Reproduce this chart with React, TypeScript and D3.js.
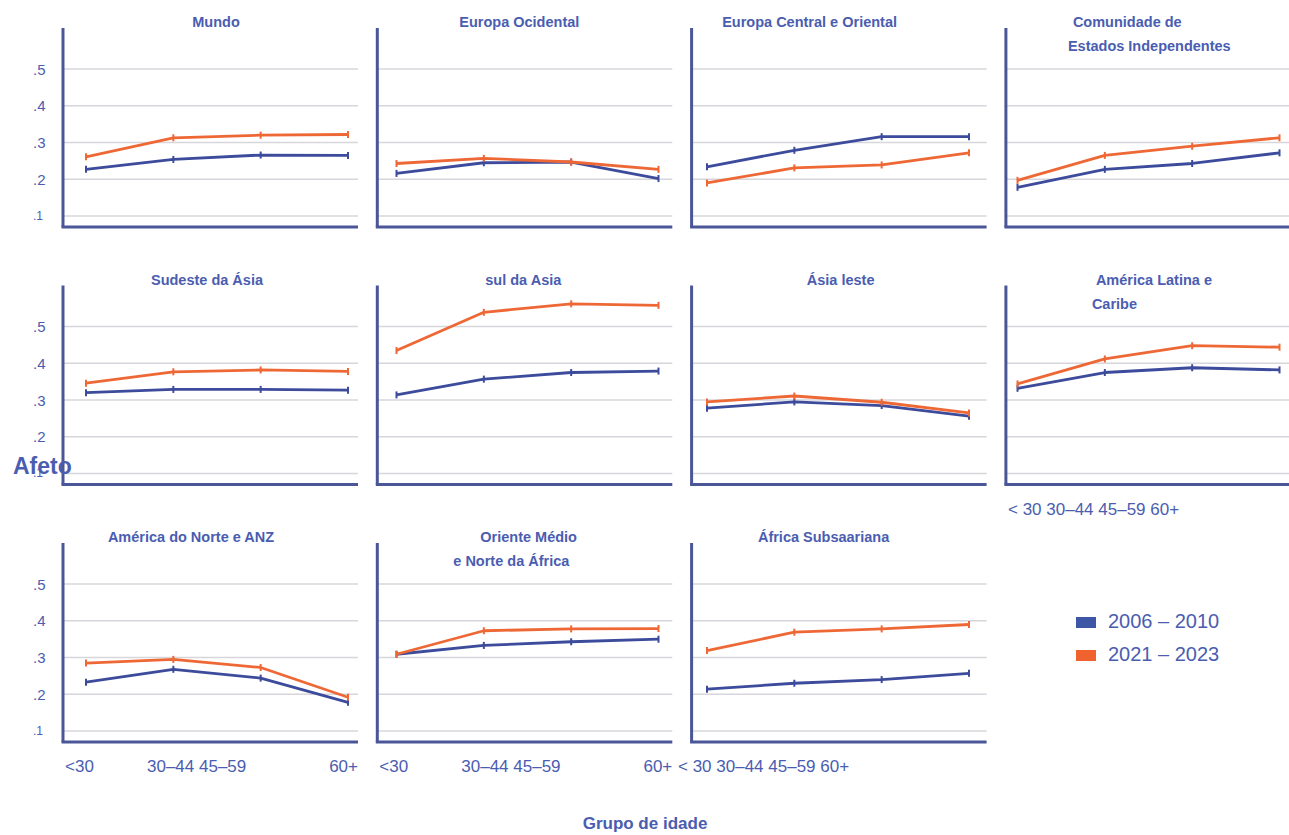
import * as d3 from "d3";

const ageGroups = ["<30", "30–44", "45–59", "60+"];
const ageGroupsCompact = ["< 30", "30–44", "45–59", "60+"];
const periods = ["2006 – 2010", "2021 – 2023"];
const yTicks = [0.1, 0.2, 0.3, 0.4, 0.5];

const regions = [
  "Mundo",
  "Europa Ocidental",
  "Europa Central e Oriental",
  "Comunidade de\nEstados Independentes",
  "Sudeste da Ásia",
  "sul da Asia",
  "Ásia leste",
  "América Latina e\nCaribe",
  "América do Norte e ANZ",
  "Oriente Médio\ne Norte da África",
  "África Subsaariana",
];

// afeto por grupo de idade (<30, 30–44, 45–59, 60+)
const afeto2006 = [
  [0.227, 0.254, 0.266, 0.265],
  [0.216, 0.245, 0.247, 0.202],
  [0.234, 0.279, 0.316, 0.316],
  [0.178, 0.227, 0.243, 0.272],
  [0.32, 0.329, 0.329, 0.327],
  [0.314, 0.357, 0.375, 0.379],
  [0.278, 0.295, 0.285, 0.256],
  [0.332, 0.375, 0.388, 0.382],
  [0.233, 0.268, 0.244, 0.178],
  [0.309, 0.333, 0.343, 0.35],
  [0.214, 0.23, 0.24, 0.257],
];

const afeto2021 = [
  [0.261, 0.313, 0.32, 0.322],
  [0.243, 0.257, 0.247, 0.227],
  [0.19, 0.231, 0.239, 0.272],
  [0.197, 0.265, 0.29, 0.313],
  [0.346, 0.377, 0.382, 0.378],
  [0.435, 0.539, 0.562, 0.558],
  [0.295, 0.311, 0.294, 0.265],
  [0.344, 0.412, 0.448, 0.444],
  [0.285, 0.295, 0.273, 0.192],
  [0.309, 0.373, 0.378, 0.379],
  [0.319, 0.369, 0.378, 0.39],
];

// posição dos títulos (relativa ao eixo de cada painel)
const titleLayout: { dx: number[]; anchor: string }[] = [
  { dx: [153], anchor: "middle" },
  { dx: [142], anchor: "middle" },
  { dx: [118], anchor: "middle" },
  { dx: [67, 62], anchor: "start" },
  { dx: [144], anchor: "middle" },
  { dx: [146], anchor: "middle" },
  { dx: [149], anchor: "middle" },
  { dx: [90, 86], anchor: "start" },
  { dx: [128], anchor: "middle" },
  { dx: [103, 76], anchor: "start" },
  { dx: [132], anchor: "middle" },
];

const W = 1289;
const H = 835;
const panelW = 295;
const panelH = 199;
const textBlue = "#4a5db0";
const axisColor = "#4a5697";
const gridColor = "#d6d6dc";
const colors = ["#3c4b9b", "#ee6836"];
const font = "'Liberation Sans', Arial, sans-serif";

const axisX = (col: number) => 63 + col * 314.3;
const axisTop = (row: number) => 28 + row * 257.5;

function Panel({ i }: { i: number }) {
  const row = Math.floor(i / 4);
  const col = i % 4;
  const ax = axisX(col);
  const top = axisTop(row);
  const px0 = 86 + col * 310.5;

  const x = d3.scalePoint<string>().domain(ageGroups).range([px0, px0 + 262]);
  const y = d3.scaleLinear().domain([0.07, 0.612]).range([top + panelH, top]);

  const line = d3
    .line<number>()
    .x((_, k) => x(ageGroups[k]) as number)
    .y((d) => y(d));

  const series = [afeto2006[i], afeto2021[i]];
  const lines = regions[i].split("\n");
  const tl = titleLayout[i];

  return (
    <g>
      {yTicks.map((t) => (
        <line
          key={t}
          x1={ax}
          x2={ax + panelW}
          y1={y(t)}
          y2={y(t)}
          stroke={gridColor}
          strokeWidth={1.5}
        />
      ))}
      {col === 0 &&
        yTicks.map((t) => (
          <text
            key={"l" + t}
            x={33}
            y={y(t) + (t === 0.1 ? 4 : 5.5)}
            fontSize={t === 0.1 ? 12 : 15}
            fill={textBlue}
            fontFamily={font}
          >
            {d3.format(".1f")(t).replace(/^0/, "")}
          </text>
        ))}
      <line x1={ax} x2={ax} y1={top} y2={top + panelH} stroke={axisColor} strokeWidth={3} />
      <line
        x1={ax - 1.5}
        x2={ax + panelW}
        y1={top + panelH}
        y2={top + panelH}
        stroke={axisColor}
        strokeWidth={3}
      />
      {series.map((s, si) => (
        <g key={si}>
          <path
            d={line(s) as string}
            fill="none"
            stroke={colors[si]}
            strokeWidth={2.8}
            strokeLinejoin="round"
          />
          {s.map((v, k) => (
            <line
              key={k}
              x1={x(ageGroups[k])}
              x2={x(ageGroups[k])}
              y1={y(v) - 3.5}
              y2={y(v) + 3.5}
              stroke={colors[si]}
              strokeWidth={2}
            />
          ))}
        </g>
      ))}
      {lines.map((ln, k) => (
        <text
          key={"t" + k}
          x={ax + tl.dx[k]}
          y={top - 1 + k * 24}
          textAnchor={tl.anchor}
          fontSize={14.5}
          fontWeight="bold"
          fill={textBlue}
          fontFamily={font}
        >
          {ln}
        </text>
      ))}
    </g>
  );
}

export default function App() {
  const xLabelStyle = { fontSize: 17, fill: textBlue, fontFamily: font };
  const splitRow = axisTop(2) + panelH + 30;
  return (
    <svg
      width={W}
      height={H}
      style={{ position: "absolute", left: 0, top: 0, background: "#fff" }}
    >
      {regions.map((_, i) => (
        <Panel key={i} i={i} />
      ))}

      {/* rótulos do eixo x (como no original) */}
      {[0, 1].map((col) => (
        <g key={col} {...xLabelStyle}>
          <text x={axisX(col) + 2} y={splitRow}>
            {ageGroups[0]}
          </text>
          <text x={axisX(col) + 84} y={splitRow}>
            {ageGroups[1] + " " + ageGroups[2]}
          </text>
          <text x={axisX(col) + panelW} y={splitRow} textAnchor="end">
            {ageGroups[3]}
          </text>
        </g>
      ))}
      <text x={678} y={splitRow} {...xLabelStyle}>
        {ageGroupsCompact.join(" ")}
      </text>
      <text x={1008} y={axisTop(1) + panelH + 30} {...xLabelStyle}>
        {ageGroupsCompact.join(" ")}
      </text>

      <text x={13} y={474} fontSize={23} fontWeight="bold" fill={textBlue} fontFamily={font}>
        Afeto
      </text>
      <text
        x={645}
        y={829}
        textAnchor="middle"
        fontSize={17}
        fontWeight="bold"
        fill={textBlue}
        fontFamily={font}
      >
        Grupo de idade
      </text>

      {periods.map((p, k) => (
        <g key={p} transform={`translate(1076, ${617 + k * 33})`}>
          <rect width={20} height={11} fill={k === 0 ? "#3d56a6" : "#f0622e"} />
          <text x={32} y={10.5} fontSize={20} fill={textBlue} fontFamily={font}>
            {p}
          </text>
        </g>
      ))}
    </svg>
  );
}
